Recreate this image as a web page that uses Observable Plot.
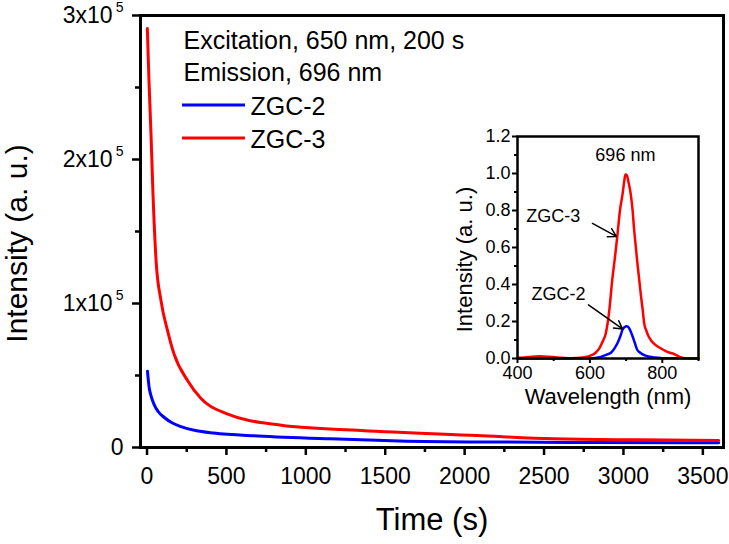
<!DOCTYPE html>
<html><head><meta charset="utf-8">
<script src="https://cdn.jsdelivr.net/npm/d3@7"></script>
<script src="https://cdn.jsdelivr.net/npm/@observablehq/plot@0.6"></script>
<style>
body{margin:0;background:#fff;}
#wrap{position:relative;width:729px;height:544px;}
#wrap svg{display:block;}
#inset{position:absolute;left:440px;top:120px;}
</style></head><body><div id="wrap"></div>
<script>
// ---------- data ----------
const seriesNames = ["ZGC-2", "ZGC-3"];
const seriesColors = ["#0000ff", "#ff0000"];
const legendTexts = ["Excitation, 650 nm, 200 s", "Emission, 696 nm"];

// main decay curves (time in s, intensity a.u.)
const timeZGC2 = [3, 13, 25, 44, 70, 107, 160, 214, 305, 420, 700, 1155, 1590, 2190, 2800, 3600];
const decayZGC2 = [53000, 42000, 36000, 30000, 25000, 21000, 17000, 14500, 11800, 10000, 8000, 6000, 4600, 3800, 3500, 3300];
const timeZGC3 = [2, 13, 25, 38, 57, 88, 132, 170, 258, 340, 500, 845, 1350, 2080, 2560, 3100, 3600];
const decayZGC3 = [291000, 253000, 218000, 175000, 130000, 102000, 80000, 65000, 46000, 34000, 23600, 15500, 11800, 8300, 6000, 5300, 4900];

const xMajorTicks = [0, 500, 1000, 1500, 2000, 2500, 3000, 3500];
const xMinorTicks = [250, 750, 1250, 1750, 2250, 2750, 3250];
const yMajorTicks = [0, 100000, 200000, 300000];
const yMinorTicks = [50000, 150000, 250000];
const yTickBase = ["0", "1x10", "2x10", "3x10"];
const yTickExp = ["", "5", "5", "5"];

// inset emission spectra
const wlZGC3 = [400,420,440,460,480,500,520,540,560,580,600,615,626,635,644,653,662,670,676,683,690,695,698,702,707,713,718,722,726,731,736,741,746,750,756,762,768,780,796,815,833,845,856];
const specZGC3 = [0.004,0.006,0.01,0.012,0.01,0.008,0.004,0.002,0.003,0.006,0.014,0.03,0.055,0.09,0.137,0.25,0.43,0.56,0.667,0.8,0.886,0.96,0.995,0.99,0.95,0.886,0.8,0.7,0.62,0.52,0.43,0.34,0.26,0.19,0.15,0.12,0.1,0.075,0.055,0.035,0.024,0.012,0.004];
const wlZGC2 = [400,500,600,615,630,645,658,668,676,684,690,696,702,708,713,718,724,731,740,750,765,778,800,850,900];
const specZGC2 = [0,0,0.001,0.003,0.009,0.02,0.031,0.055,0.082,0.12,0.155,0.17,0.174,0.165,0.145,0.119,0.085,0.046,0.03,0.018,0.009,0.005,0.002,0.001,0];

const insetXTicks = [400, 600, 800];
const insetXMinor = [500, 700, 900];
const insetYTicks = [0, 0.2, 0.4, 0.6, 0.8, 1.0, 1.2];
const insetYMinor = [0.1, 0.3, 0.5, 0.7, 0.9, 1.1];
const insetLabels = [
  {text: "696 nm", wl: 698, v: 1.10},
  {text: "ZGC-3", wl: 499, v: 0.77},
  {text: "ZGC-2", wl: 513, v: 0.345}
];
const insetArrows = [
  {wl1: 607, v1: 0.73, wl2: 673, v2: 0.66},
  {wl1: 596, v1: 0.29, wl2: 690, v2: 0.16}
];

// ---------- build ----------
const FONT = '"Liberation Sans", Arial, Helvetica, sans-serif';
const decay2 = timeZGC2.map((t, i) => ({t, v: decayZGC2[i]}));
const decay3 = timeZGC3.map((t, i) => ({t, v: decayZGC3[i]}));
const spec2 = wlZGC2.map((w, i) => ({w, v: specZGC2[i]}));
const spec3 = wlZGC3.map((w, i) => ({w, v: specZGC3[i]}));
const yLab = yMajorTicks.map((y, i) => ({y, base: yTickBase[i], exp: yTickExp[i]}));

const legendText = (t, dx, dy) => Plot.text([t], {text: d => d, frameAnchor: "top-left", dx, dy, textAnchor: "start", lineAnchor: "middle", fontSize: 25});

const main = Plot.plot({
  width: 729, height: 544,
  marginLeft: 140, marginRight: 6, marginTop: 15, marginBottom: 97,
  style: {fontFamily: FONT, background: "transparent", color: "#000", overflow: "visible"},
  x: {domain: [-41, 3630]},
  y: {domain: [0, 300000]},
  marks: [
    Plot.line(decay2, {x: "t", y: "v", stroke: seriesColors[0], strokeWidth: 3, curve: "monotone-x"}),
    Plot.line(decay3, {x: "t", y: "v", stroke: seriesColors[1], strokeWidth: 3, curve: "monotone-x"}),
    Plot.axisX({ticks: xMajorTicks, tickSize: 8, tickPadding: 12, tickFormat: d => String(d), fontSize: 23, strokeWidth: 2.5, label: null}),
    Plot.axisX({ticks: xMinorTicks, tickSize: 5, tickFormat: () => "", strokeWidth: 2.5, label: null}),
    Plot.axisY({ticks: yMajorTicks, tickSize: 8, tickFormat: () => "", strokeWidth: 2.5, label: null}),
    Plot.axisY({ticks: yMinorTicks, tickSize: 5, tickFormat: () => "", strokeWidth: 2.5, label: null}),
    Plot.text(yLab.filter(d => d.exp === ""), {y: "y", text: "base", frameAnchor: "left", dx: -17, textAnchor: "end", lineAnchor: "middle", fontSize: 23}),
    Plot.text(yLab.filter(d => d.exp !== ""), {y: "y", text: "base", frameAnchor: "left", dx: -28, textAnchor: "end", lineAnchor: "middle", fontSize: 23}),
    Plot.text(yLab.filter(d => d.exp !== ""), {y: "y", text: "exp", frameAnchor: "left", dx: -17, dy: -8, textAnchor: "end", lineAnchor: "middle", fontSize: 14}),
    Plot.frame({strokeWidth: 3}),
    Plot.text(["Time (s)"], {text: d => d, frameAnchor: "bottom", dy: 73, textAnchor: "middle", lineAnchor: "middle", fontSize: 31}),
    Plot.text(["Intensity (a. u.)"], {text: d => d, frameAnchor: "left", rotate: -90, dx: -123, dy: 12, textAnchor: "middle", lineAnchor: "middle", fontSize: 30}),
    legendText(legendTexts[0], 43, 25),
    legendText(legendTexts[1], 43, 57),
    legendText(seriesNames[0], 110, 91),
    legendText(seriesNames[1], 110, 124)
  ]
});

// legend line samples
const ms = d3.select(main);
[[105, seriesColors[0]], [138, seriesColors[1]]].forEach(([y, c]) => {
  ms.append("line").attr("x1", 182).attr("x2", 245).attr("y1", y).attr("y2", y)
    .attr("stroke", c).attr("stroke-width", 3);
});

const inset = Plot.plot({
  width: 280, height: 300,
  marginLeft: 77, marginRight: 22, marginTop: 16, marginBottom: 62,
  style: {fontFamily: FONT, background: "transparent", color: "#000", overflow: "visible"},
  x: {domain: [400, 900]},
  y: {domain: [0, 1.2]},
  marks: [
    Plot.line(spec3, {x: "w", y: "v", stroke: seriesColors[1], strokeWidth: 2.5, curve: "monotone-x"}),
    Plot.line(spec2, {x: "w", y: "v", stroke: seriesColors[0], strokeWidth: 2.5, curve: "monotone-x"}),
    Plot.axisX({ticks: insetXTicks, tickSize: 5, tickPadding: 3, tickFormat: d => String(d), fontSize: 18, strokeWidth: 2, label: null}),
    Plot.axisX({ticks: insetXMinor, tickSize: 3, tickFormat: () => "", strokeWidth: 2, label: null}),
    Plot.axisY({ticks: insetYTicks, tickSize: 5, tickPadding: 2, tickFormat: d3.format(".1f"), fontSize: 18, strokeWidth: 2, label: null}),
    Plot.axisY({ticks: insetYMinor, tickSize: 3, tickFormat: () => "", strokeWidth: 2, label: null}),
    Plot.frame({strokeWidth: 2.5}),
    Plot.text(insetLabels, {x: "wl", y: "v", text: "text", fontSize: 18}),
    Plot.arrow(insetArrows, {x1: "wl1", y1: "v1", x2: "wl2", y2: "v2", stroke: "#000", strokeWidth: 1.5, headLength: 9}),
    Plot.text(["Wavelength (nm)"], {text: d => d, frameAnchor: "bottom", dy: 38, textAnchor: "middle", lineAnchor: "middle", fontSize: 22}),
    Plot.text(["Intensity (a. u.)"], {text: d => d, frameAnchor: "left", rotate: -90, dx: -53, dy: 12, textAnchor: "middle", lineAnchor: "middle", fontSize: 22})
  ]
});
inset.id = "inset";

const wrap = document.getElementById("wrap");
wrap.appendChild(main);
wrap.appendChild(inset);
</script>
</body></html>
